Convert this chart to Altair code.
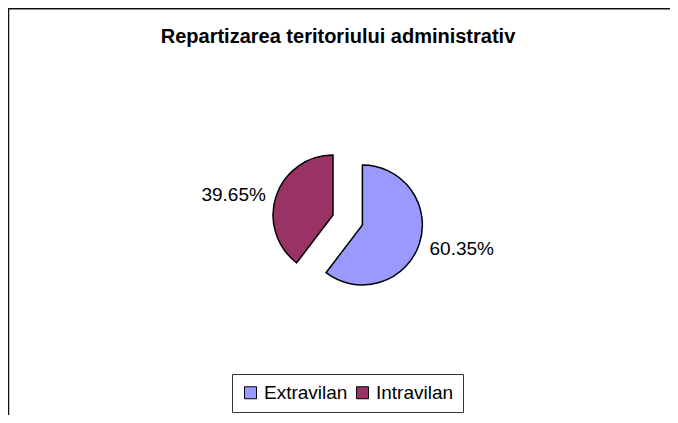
import math
import altair as alt
import pandas as pd

# ---- data ----
categories = ["Extravilan", "Intravilan"]
values = [60.35, 39.65]
colors = ["#9999FF", "#993366"]
title_text = "Repartizarea teritoriului administrativ"

# ---- layout ----
W, H = 662, 407
CX, CY = 339.7, 212.0
RADIUS = 60
EXPLODE = 15.5
LABEL_R = 69
LABEL_HALF = 34
FONT = "Liberation Sans"

df = pd.DataFrame({"category": categories, "value": values,
                   "order": list(range(len(categories)))})
frame_df = pd.DataFrame({"k": [0]})

base = alt.Chart(df).transform_window(
    cum="sum(value)", sort=[alt.SortField("order")], frame=[None, 0]
).transform_joinaggregate(
    total="sum(value)"
).transform_calculate(
    start="(datum.cum - datum.value) / datum.total",
    end="datum.cum / datum.total",
    mid="PI * (2 * datum.cum - datum.value) / datum.total",
).transform_calculate(
    vx=f"{CX} + {EXPLODE} * sin(datum.mid)",
    vy=f"{CY} - {EXPLODE} * cos(datum.mid)",
)

arcs = base.mark_arc(stroke="black", strokeWidth=1.5, radius=RADIUS, opacity=1).encode(
    x=alt.X("vx:Q", scale=None),
    y=alt.Y("vy:Q", scale=None),
    theta=alt.Theta("start:Q", scale=alt.Scale(domain=[0, 1], range=[0, 2 * math.pi])),
    theta2="end:Q",
    color=alt.Color(
        "category:N",
        scale=alt.Scale(domain=categories, range=colors),
        legend=alt.Legend(
            title=None, orient="none", legendX=224, legendY=366,
            direction="horizontal", strokeColor="#333333", padding=9,
            symbolType="square", symbolSize=144, symbolStrokeColor="black",
            symbolStrokeWidth=1, symbolOpacity=1,
            labelFont=FONT, labelFontSize=19, labelColor="black",
            labelOffset=4, columnPadding=5,
        ),
    ),
)

labels = base.transform_calculate(
    lx=f"datum.vx + {LABEL_R} * sin(datum.mid) + {LABEL_HALF} * (sin(datum.mid) > 0 ? 1 : -1)",
    ly=f"datum.vy - {LABEL_R} * cos(datum.mid) + 2",
    label="format(datum.value, '.2f') + '%'",
).mark_text(font=FONT, fontSize=19, align="center", baseline="middle", color="black").encode(
    x=alt.X("lx:Q", scale=None),
    y=alt.Y("ly:Q", scale=None),
    text="label:N",
)

title = alt.Chart(pd.DataFrame({"t": [title_text]})).mark_text(
    font=FONT, fontSize=20, fontWeight="bold", align="center", baseline="middle", color="black"
).encode(x=alt.value(330), y=alt.value(29), text="t:N")

top_border = alt.Chart(frame_df).mark_rule(color="#111111", strokeWidth=2).encode(
    x=alt.value(0), x2=alt.value(W), y=alt.value(0.5)
)
left_border = alt.Chart(frame_df).mark_rule(color="#111111", strokeWidth=1.5).encode(
    x=alt.value(0.5), y=alt.value(0), y2=alt.value(H)
)

chart = alt.layer(top_border, left_border, arcs, labels, title).properties(
    width=W, height=H, autosize=alt.AutoSizeParams(type="none"), padding=0,
    background="white",
).configure_view(stroke=None)

chart.save("out.html", embed_options={"renderer": "svg", "actions": False})
